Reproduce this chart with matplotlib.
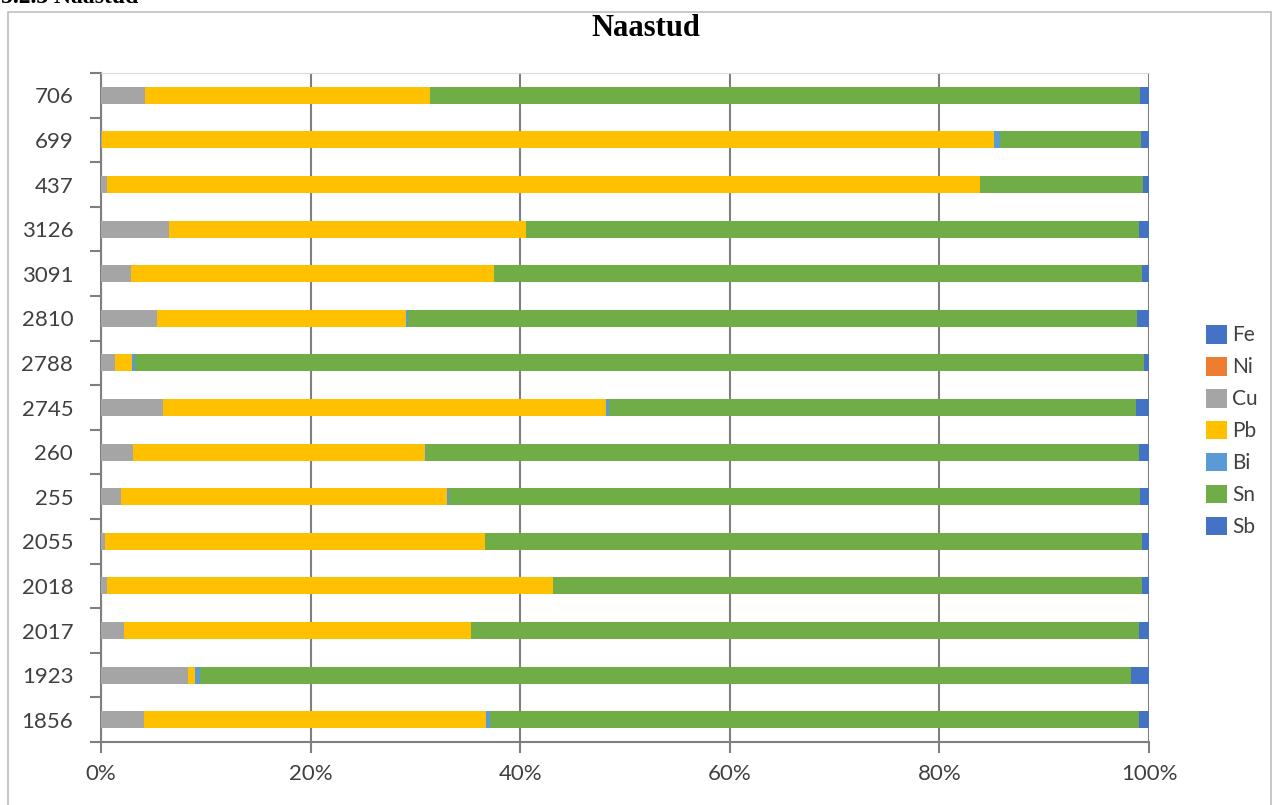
import matplotlib
matplotlib.use("Agg")
import matplotlib.pyplot as plt
import matplotlib.patches as mpatches
from matplotlib.ticker import FixedLocator, PercentFormatter
import numpy as np

# proovid alt üles
samples = ["1856", "1923", "2017", "2018", "2055", "255", "260", "2745",
           "2788", "2810", "3091", "3126", "437", "699", "706"]

# koostis, %
fe = [0, 0, 0, 0, 0, 0, 0, 0, 0, 0, 0, 0, 0, 0, 0]
ni = [0, 0, 0, 0, 0, 0, 0, 0, 0, 0, 0, 0, 0, 0, 0]
cu = [4.1, 8.3, 2.2, 0.6, 0.4, 1.9, 3.1, 5.9, 1.3, 5.3, 2.9, 6.5, 0.6, 0.1, 4.2]
pb = [32.6, 0.7, 33.1, 42.5, 36.2, 31.1, 27.8, 42.3, 1.7, 23.8, 34.6, 34.1, 83.3, 85.1, 27.2]
bi = [0.4, 0.4, 0.0, 0.0, 0.0, 0.2, 0.1, 0.3, 0.2, 0.2, 0.0, 0.0, 0.0, 0.6, 0.0]
sn = [61.9, 88.9, 63.7, 56.2, 62.7, 65.9, 68.0, 50.3, 96.3, 69.6, 61.8, 58.4, 15.5, 13.4, 67.7]
sb = [1.0, 1.7, 1.0, 0.7, 0.7, 0.9, 1.0, 1.2, 0.5, 1.1, 0.7, 1.0, 0.6, 0.8, 0.9]

series = [("Fe", fe, "#4472C4"), ("Ni", ni, "#ED7D31"), ("Cu", cu, "#A5A5A5"),
          ("Pb", pb, "#FFC000"), ("Bi", bi, "#5B9BD5"), ("Sn", sn, "#70AD47"),
          ("Sb", sb, "#4472C4")]

W, H = 1274, 805
fig = plt.figure(figsize=(W / 100, H / 100), dpi=100)

# diagrammi raam
fig.patches.append(mpatches.Rectangle((8 / W, -0.01), (1271 - 8) / W, 1.01 - 12 / H,
                                      transform=fig.transFigure, fill=False,
                                      edgecolor="#BFBFBF", linewidth=1.2))
fig.text(1 / W, 1 - 3 / H, "5.2.3 Naastud", fontsize=17, fontweight="bold",
         family="Liberation Serif", va="baseline", ha="left")

ax = fig.add_axes([101 / W, 63 / H, (1149 - 101) / W, (742 - 73) / H])

total = np.sum([s[1] for s in series], axis=0)
y = np.arange(len(samples))
left = np.zeros(len(samples))
handles = []
for name, vals, color in series:
    frac = np.array(vals) / total * 100
    b = ax.barh(y, frac, left=left, height=0.38, color=color, label=name, zorder=3)
    handles.append(b)
    left += frac

ax.set_xlim(0, 100)
ax.set_ylim(-0.5, len(samples) - 0.5)
ax.xaxis.set_major_locator(FixedLocator([0, 20, 40, 60, 80, 100]))
ax.xaxis.set_major_formatter(PercentFormatter(decimals=0))
ax.grid(axis="x", color="#7F7F7F", linewidth=1.5, zorder=0)

ax.set_yticks(y)
ax.set_yticklabels(samples)
ax.set_yticks(np.arange(len(samples) + 1) - 0.5, minor=True)
ax.tick_params(axis="y", which="major", length=0, pad=20, labelsize=16)
ax.tick_params(axis="y", which="minor", length=8, width=1.5, color="#7F7F7F")
ax.tick_params(axis="x", length=8, width=1.5, color="#7F7F7F", pad=8,
               labelsize=16, labelcolor="#404040")
ax.tick_params(axis="y", labelcolor="#404040")
for lab in ax.get_xticklabels() + ax.get_yticklabels():
    lab.set_family("Lato")

for side in ["left", "bottom"]:
    ax.spines[side].set_color("#7F7F7F")
    ax.spines[side].set_linewidth(1.5)
ax.spines["right"].set_visible(False)
ax.spines["top"].set_color("#D9D9D9")

fig.text(646 / W, 1 - 29 / H, "Naastud", fontsize=22, fontweight="bold",
         family="Liberation Serif", ha="center", va="center")

leg = fig.legend(handles=handles, loc="center left",
                 bbox_to_anchor=(1206 / W, 1 - 431 / H), frameon=False,
                 borderpad=0, borderaxespad=0,
                 prop={"family": "Lato", "size": 15}, handlelength=1.0,
                 handleheight=1.0, handletextpad=0.25, labelspacing=0.55)
for t in leg.get_texts():
    t.set_color("#404040")

fig.savefig("out.png", dpi=100)
